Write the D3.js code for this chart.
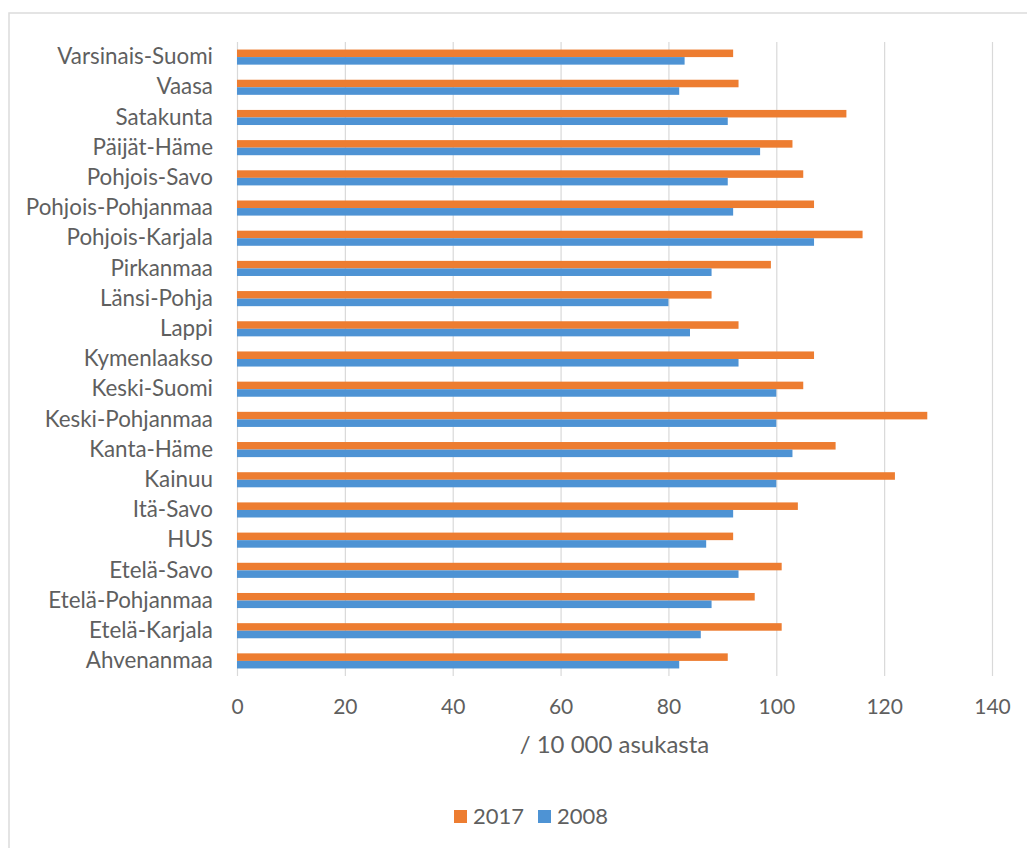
<!DOCTYPE html>
<html>
<head>
<meta charset="utf-8">
<script src="https://cdn.jsdelivr.net/npm/d3@7"></script>
<style>
  body { margin: 0; background: #fff; }
  text { font-family: Lato, "Open Sans", sans-serif; fill: #5f5f5f; }
</style>
</head>
<body>
<svg id="chart" width="1027" height="848"></svg>
<script>
const categories = ["Varsinais-Suomi","Vaasa","Satakunta","Päijät-Häme","Pohjois-Savo","Pohjois-Pohjanmaa","Pohjois-Karjala","Pirkanmaa","Länsi-Pohja","Lappi","Kymenlaakso","Keski-Suomi","Keski-Pohjanmaa","Kanta-Häme","Kainuu","Itä-Savo","HUS","Etelä-Savo","Etelä-Pohjanmaa","Etelä-Karjala","Ahvenanmaa"];
const values2017 = [92,93,113,103,105,107,116,99,88,93,107,105,128,111,122,104,92,101,96,101,91];
const values2008 = [83,82,91,97,91,92,107,88,80,84,93,100,100,103,100,92,87,93,88,86,82];
const seriesNames = ["2017","2008"];
const seriesColors = ["#ED7D31","#4E93D4"];
const xTicks = [0,20,40,60,80,100,120,140];
const axisTitle = "/ 10 000 asukasta";

const svg = d3.select("#chart");
svg.append("rect").attr("width",1027).attr("height",848).attr("fill","#fff");
svg.append("rect").attr("x",9).attr("y",13).attr("width",1040).attr("height",860)
  .attr("fill","none").attr("stroke","#dcdcdc").attr("stroke-width",1.5);

const pLeft = 237, pRight = 992, pTop = 42, pBottom = 676;
const x = d3.scaleLinear().domain([0,140]).range([pLeft,pRight]);
const y = d3.scaleBand().domain(categories).range([pTop,pBottom]).paddingInner(0.5).paddingOuter(0.25);
const ySub = d3.scaleBand().domain(seriesNames).range([0,y.bandwidth()]);

// x axis with gridlines
const xAxis = svg.append("g").attr("transform",`translate(0,${pBottom})`)
  .call(d3.axisBottom(x).tickValues(xTicks).tickSize(-(pBottom-pTop)).tickPadding(23));
xAxis.select(".domain").remove();
xAxis.selectAll(".tick line").attr("stroke","#d9d9d9").attr("stroke-width",1.2);
xAxis.selectAll(".tick text").attr("font-size",21).attr("fill","#5f5f5f")
  .style("font-family","Lato, sans-serif");

// y axis labels
const yAxis = svg.append("g").attr("transform",`translate(${pLeft},0)`)
  .call(d3.axisLeft(y).tickSize(0).tickPadding(24));
yAxis.select(".domain").remove();
yAxis.selectAll(".tick text").attr("font-size",22.4).attr("fill","#5f5f5f")
  .style("font-family","Lato, sans-serif");

// bars
const data = categories.map((c,i)=>({cat:c, vals:[values2017[i], values2008[i]]}));
const groups = svg.append("g").selectAll("g").data(data).join("g")
  .attr("transform",d=>`translate(0,${y(d.cat)})`);
groups.selectAll("rect").data(d=>d.vals.map((v,j)=>({v, s:seriesNames[j], c:seriesColors[j]})))
  .join("rect")
  .attr("x",x(0))
  .attr("y",d=>ySub(d.s))
  .attr("width",d=>x(d.v)-x(0))
  .attr("height",ySub.bandwidth())
  .attr("fill",d=>d.c);

// axis title
svg.append("text").attr("x",(pLeft+pRight)/2).attr("y",745).attr("dy","0.35em")
  .attr("text-anchor","middle").attr("font-size",24).text(axisTitle);

// legend
const legendPos = [454, 538];
const lg = svg.append("g").selectAll("g").data(seriesNames).join("g")
  .attr("transform",(d,i)=>`translate(${legendPos[i]},810)`);
lg.append("rect").attr("width",13).attr("height",13).attr("fill",(d,i)=>seriesColors[i]);
lg.append("text").attr("x",19).attr("y",6.5).attr("dy","0.35em").attr("font-size",22).text(d=>d);
</script>
</body>
</html>
